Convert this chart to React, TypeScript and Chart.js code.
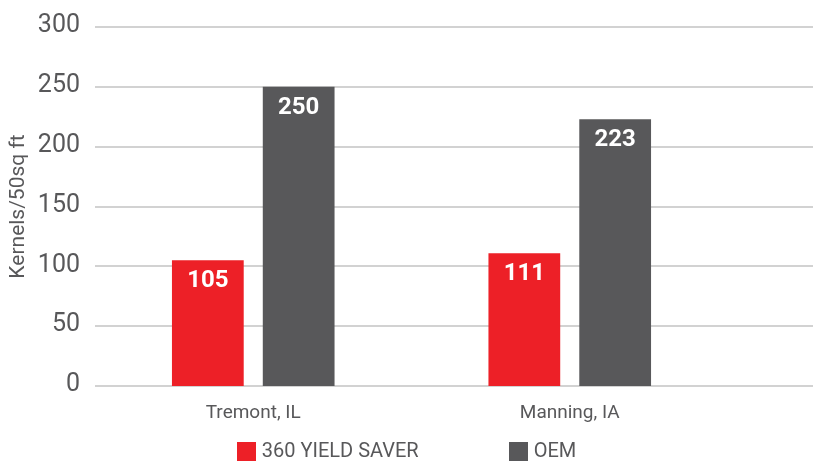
import React, { useEffect, useRef } from "react";
import { Chart, registerables } from "chart.js";

Chart.register(...registerables);

const categories = ["Tremont, IL", "Manning, IA"];
const yieldSaver = [105, 111];
const oem = [250, 223];
const seriesNames = ["360 YIELD SAVER", "OEM"];
const yTitle = "Kernels/50sq ft";

const RED = "#ed2027";
const GREY = "#58585a";
const TEXT = "#58585a";
const FONT = "Roboto, 'Open Sans', sans-serif";

export default function App() {
  const ref = useRef<HTMLCanvasElement | null>(null);

  useEffect(() => {
    const canvas = ref.current;
    if (!canvas) return;

    const gridPlugin = {
      id: "extGrid",
      beforeDatasetsDraw(chart: any) {
        const { ctx, chartArea, scales } = chart;
        const y = scales.y;
        ctx.save();
        ctx.strokeStyle = "#d2d2d2";
        ctx.lineWidth = 2;
        y.ticks.forEach((t: any) => {
          const py = Math.round(y.getPixelForValue(t.value));
          ctx.beginPath();
          ctx.moveTo(chartArea.left, py);
          ctx.lineTo(chart.width, py);
          ctx.stroke();
        });
        ctx.restore();
      },
    };

    const titlePlugin = {
      id: "yTitle",
      afterDraw(chart: any) {
        const { ctx, chartArea } = chart;
        ctx.save();
        ctx.translate(19, (chartArea.top + chartArea.bottom) / 2);
        ctx.rotate(-Math.PI / 2);
        ctx.fillStyle = TEXT;
        ctx.font = `21px ${FONT}`;
        ctx.textAlign = "center";
        ctx.textBaseline = "middle";
        ctx.fillText(yTitle, 0, 0);
        ctx.restore();
      },
    };

    const labelPlugin = {
      id: "barLabels",
      afterDatasetsDraw(chart: any) {
        const { ctx } = chart;
        ctx.save();
        ctx.fillStyle = "#ffffff";
        ctx.font = `bold 24px ${FONT}`;
        ctx.textAlign = "center";
        ctx.textBaseline = "middle";
        chart.data.datasets.forEach((ds: any, i: number) => {
          const meta = chart.getDatasetMeta(i);
          meta.data.forEach((el: any, j: number) => {
            ctx.fillText(String(ds.data[j]), el.x, el.y + 21);
          });
        });
        ctx.restore();
      },
    };

    const legendPlugin = {
      id: "customLegend",
      afterDraw(chart: any) {
        const { ctx } = chart;
        ctx.save();
        ctx.font = `20px ${FONT}`;
        ctx.textBaseline = "middle";
        const box = 19;
        const gapText = 6;
        const gapItems = 90;
        const items = chart.data.datasets.map((ds: any) => ({
          label: ds.label,
          color: ds.backgroundColor,
          w: box + gapText + ctx.measureText(ds.label).width,
        }));
        const total = items.reduce((a: number, it: any) => a + it.w, 0) + gapItems * (items.length - 1);
        let x = (chart.width - total) / 2;
        const cy = 451;
        items.forEach((it: any) => {
          ctx.fillStyle = it.color;
          ctx.fillRect(Math.round(x), Math.round(cy - box / 2), box, box);
          ctx.fillStyle = TEXT;
          ctx.fillText(it.label, x + box + gapText, cy + 1);
          x += it.w + gapItems;
        });
        ctx.restore();
      },
    };

    const chart = new Chart(canvas, {
      type: "bar",
      data: {
        labels: categories,
        datasets: [
          {
            label: seriesNames[0],
            data: yieldSaver,
            backgroundColor: RED,
            categoryPercentage: 0.574,
            barPercentage: 0.79,
          },
          {
            label: seriesNames[1],
            data: oem,
            backgroundColor: GREY,
            categoryPercentage: 0.574,
            barPercentage: 0.79,
          },
        ],
      },
      options: {
        animation: false,
        responsive: false,
        maintainAspectRatio: false,
        layout: { autoPadding: false, padding: { left: 0, right: 85, top: 18, bottom: 40 } },
        plugins: {
          legend: { display: false },
          tooltip: { enabled: false },
        },
        scales: {
          x: {
            grid: { display: false },
            border: { display: false },
            ticks: { color: TEXT, font: { family: FONT, size: 19 }, padding: 8 },
            afterFit: (s: any) => {
              s.height = 37;
            },
          },
          y: {
            min: 0,
            max: 300,
            grid: { display: false, drawTicks: false },
            border: { display: false },
            ticks: {
              stepSize: 50,
              color: TEXT,
              font: { family: FONT, size: 25, lineHeight: 0.96 },
              padding: 15,
              labelOffset: -1,
            },
            afterFit: (s: any) => {
              s.width = 95;
            },
          },
        },
      },
      plugins: [gridPlugin, labelPlugin, titlePlugin, legendPlugin],
    });

    return () => chart.destroy();
  }, []);

  return (
    <div style={{ position: "fixed", left: 0, top: 0, width: 813, height: 463, background: "#fff" }}>
      <canvas ref={ref} width={813} height={463} style={{ width: 813, height: 463 }} />
    </div>
  );
}
